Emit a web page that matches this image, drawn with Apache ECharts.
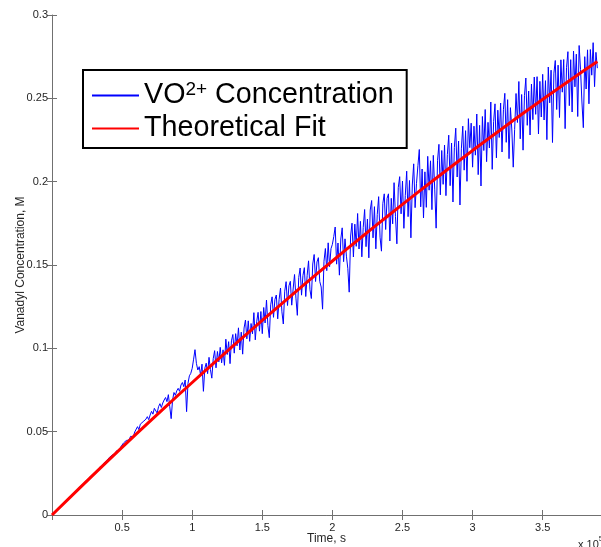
<!DOCTYPE html>
<html>
<head>
<meta charset="utf-8">
<script src="https://cdn.jsdelivr.net/npm/echarts@6/dist/echarts.min.js"></script>
<style>
html,body{margin:0;padding:0;background:#fff;}
#chart{width:601px;height:547px;}
</style>
</head>
<body>
<div id="chart"></div>
<script>
// ---- data ----
const sampleStep = 1000; // seconds between measured samples (t = i * sampleStep)
const vo2Values = [
0.0000,0.0012,0.0014,0.0030,0.0031,0.0046,0.0048,0.0061,0.0065,0.0078,
0.0080,0.0095,0.0098,0.0110,0.0121,0.0119,0.0135,0.0146,0.0148,0.0161,
0.0160,0.0178,0.0186,0.0185,0.0204,0.0210,0.0212,0.0229,0.0236,0.0240,
0.0252,0.0258,0.0270,0.0268,0.0287,0.0296,0.0293,0.0312,0.0318,0.0325,
0.0330,0.0346,0.0342,0.0360,0.0371,0.0366,0.0385,0.0392,0.0389,0.0408,
0.0420,0.0432,0.0425,0.0447,0.0455,0.0450,0.0472,0.0480,0.0470,0.0498,
0.0505,0.0530,0.0512,0.0545,0.0538,0.0560,0.0548,0.0575,0.0590,0.0572,
0.0600,0.0622,0.0605,0.0640,0.0628,0.0612,0.0650,0.0668,0.0645,0.0672,
0.0690,0.0705,0.0680,0.0722,0.0650,0.0578,0.0690,0.0735,0.0718,0.0745,
0.0760,0.0742,0.0780,0.0795,0.0770,0.0810,0.0620,0.0790,0.0835,0.0850,
0.0880,0.0935,0.0992,0.0910,0.0870,0.0890,0.0840,0.0905,0.0742,0.0880,
0.0911,0.0848,0.0946,0.0873,0.0821,0.0938,0.0986,0.0883,0.0981,0.0919,
0.1006,0.0913,0.0991,0.0898,0.1055,0.0963,0.1040,0.0908,0.1045,0.1083,
0.0971,0.1088,0.1015,0.1123,0.0990,0.1097,0.0965,0.1122,0.1170,0.1057,
0.1165,0.1042,0.1149,0.1087,0.1214,0.1051,0.1159,0.1216,0.1103,0.1221,
0.1088,0.1245,0.1152,0.1290,0.1137,0.1064,0.1261,0.1309,0.1186,0.1293,
0.1320,0.1177,0.1294,0.1362,0.1219,0.1146,0.1343,0.1400,0.1257,0.1375,
0.1402,0.1259,0.1356,0.1443,0.1301,0.1198,0.1425,0.1482,0.1319,0.1437,
0.1484,0.1311,0.1438,0.1525,0.1352,0.1299,0.1506,0.1563,0.1401,0.1518,
0.1544,0.1401,0.1368,0.1235,0.1522,0.1599,0.1466,0.1633,0.1490,0.1598,
0.1624,0.1671,0.1728,0.1505,0.1632,0.1439,0.1656,0.1723,0.1520,0.1657,
0.1553,0.1480,0.1337,0.1674,0.1751,0.1548,0.1745,0.1612,0.1809,0.1596,
0.1762,0.1549,0.1726,0.1833,0.1610,0.1776,0.1543,0.1830,0.1887,0.1663,
0.1850,0.1597,0.1803,0.1910,0.1667,0.1583,0.1870,0.1927,0.1713,0.1900,
0.1927,0.1644,0.1900,0.1747,0.1994,0.1790,0.1627,0.1964,0.2030,0.1807,
0.2004,0.1720,0.1917,0.2063,0.1790,0.2007,0.1663,0.1980,0.2107,0.1844,
0.1990,0.2096,0.2193,0.1849,0.2076,0.1782,0.2059,0.1846,0.2152,0.1949,
0.2125,0.1832,0.2158,0.1955,0.1721,0.2128,0.2224,0.1921,0.2187,0.1984,
0.2220,0.1916,0.2163,0.2279,0.1976,0.2232,0.1878,0.2205,0.2321,0.2028,
0.2244,0.1860,0.2197,0.2333,0.2069,0.2306,0.2002,0.2378,0.2204,0.2351,
0.2087,0.2333,0.2159,0.2406,0.2042,0.2338,0.1974,0.2391,0.2187,0.2433,
0.2120,0.2356,0.2202,0.2478,0.2074,0.2361,0.2467,0.2143,0.2429,0.2265,
0.2472,0.2178,0.2434,0.2530,0.2236,0.2492,0.2138,0.2444,0.2310,0.2087,
0.2313,0.2529,0.2355,0.2601,0.2257,0.2523,0.2189,0.2516,0.2622,0.2338,
0.2544,0.2280,0.2586,0.2372,0.2628,0.2404,0.2630,0.2286,0.2602,0.2388,
0.2644,0.2370,0.2606,0.2252,0.2688,0.2473,0.2669,0.2235,0.2651,0.2727,
0.2433,0.2699,0.2385,0.2731,0.2537,0.2733,0.2318,0.2684,0.2780,0.2456,
0.2732,0.2418,0.2784,0.2569,0.2765,0.2391,0.2817,0.2673,0.2478,0.2324,
0.2750,0.2556,0.2791,0.2467,0.2793,0.2639,0.2834,0.2570,0.2776,0.2681
];
const fitTimes = [0,20000,40000,60000,80000,100000,120000,140000,160000,180000,200000,
  220000,240000,260000,280000,300000,320000,340000,360000,380000,389000];
const fitValues = [0,0.01643,0.03259,0.04849,0.06413,0.0795,0.09461,0.10945,0.12403,0.13835,0.1524,
  0.16619,0.17971,0.19297,0.20597,0.2187,0.23117,0.24337,0.25531,0.26699,0.27216];
const seriesNames = ['VO2+ Concentration','Theoretical Fit'];
const xAxisTitle = 'Time, s';
const yAxisTitle = 'Vanadyl Concentration, M';
const xExponent = 5;

// ---- build ----
const vo2Data = vo2Values.map((v, i) => [i * sampleStep, v]);
const fitData = fitTimes.map((t, i) => [t, fitValues[i]]);
const scale = Math.pow(10, xExponent);

const FONT = 'Liberation Sans, Arial, Helvetica, sans-serif';
const AXIS_COLOR = '#707070';
const TEXT_COLOR = '#262626';
const X_MAX = 391600;

const chart = echarts.init(document.getElementById('chart'), null, {renderer: 'canvas'});
const xCommon = {
  type: 'value', min: 0, max: X_MAX, interval: 50000,
  splitLine: {show: false},
  axisLine: {lineStyle: {color: AXIS_COLOR, width: 1}},
  axisTick: {inside: true, length: 5, lineStyle: {color: AXIS_COLOR}}
};
const yCommon = {
  type: 'value', min: 0, max: 0.3, interval: 0.05,
  splitLine: {show: false},
  axisLine: {show: true, lineStyle: {color: AXIS_COLOR, width: 1}},
  axisTick: {show: true, inside: true, length: 5, lineStyle: {color: AXIS_COLOR}}
};
const option = {
  animation: false,
  backgroundColor: '#fff',
  textStyle: {fontFamily: FONT},
  grid: {left: 52, right: 0, top: 15, bottom: 32, containLabel: false, outerBoundsMode: 'none'},
  xAxis: [
    Object.assign({}, xCommon, {
      position: 'bottom',
      name: xAxisTitle, nameLocation: 'middle', nameGap: 18, nameMoveOverlap: false,
      nameTextStyle: {fontFamily: FONT, fontSize: 12, color: TEXT_COLOR},
      axisLabel: {
        fontFamily: FONT, fontSize: 11, color: TEXT_COLOR, margin: 7,
        showMaxLabel: false,
        formatter: v => (v === 0 || v % 50000 !== 0) ? '' : String(v / scale)
      }
    }),
    Object.assign({}, xCommon, {
      position: 'top', axisLabel: {show: false}
    })
  ],
  yAxis: [
    Object.assign({}, yCommon, {
      position: 'left',
      name: yAxisTitle, nameLocation: 'middle', nameGap: 25, nameMoveOverlap: false,
      nameTextStyle: {fontFamily: FONT, fontSize: 12, color: TEXT_COLOR},
      axisLabel: {fontFamily: FONT, fontSize: 11, color: TEXT_COLOR, margin: 4,
        formatter: v => String(+v.toFixed(2))}
    }),
    Object.assign({}, yCommon, {
      position: 'right', axisLabel: {show: false},
      axisLine: {show: false}
    })
  ],
  legend: {
    show: true,
    orient: 'vertical',
    left: 83, top: 70,
    padding: [10, 13, 4, 8],
    itemWidth: 47, itemHeight: 14, itemGap: 2,
    borderColor: '#000', borderWidth: 2,
    backgroundColor: '#fff',
    itemStyle: {opacity: 0},
    data: seriesNames,
    formatter: name => name === seriesNames[0]
      ? '{n|VO}{s|2+}{n| Concentration}'
      : '{n|' + name + '}',
    textStyle: {
      fontFamily: FONT, fontSize: 28.7, color: '#000', lineHeight: 31,
      rich: {
        n: {fontFamily: FONT, fontSize: 28.7, color: '#000', lineHeight: 31},
        s: {fontFamily: FONT, fontSize: 19, color: '#000', lineHeight: 19, verticalAlign: 'top'}
      }
    }
  },
  graphic: [{
    type: 'text', left: 578, top: 535,
    style: {
      text: '{a|x 10}{b|' + xExponent + '}',
      rich: {
        a: {fontFamily: FONT, fontSize: 11, fill: TEXT_COLOR, padding: [6, 0, 0, 0]},
        b: {fontFamily: FONT, fontSize: 8, fill: TEXT_COLOR, padding: [0, 0, 6, 0]}
      }
    }
  }],
  series: [
    {
      name: seriesNames[0], type: 'line', data: vo2Data,
      xAxisIndex: 0, yAxisIndex: 0,
      symbol: 'none', showSymbol: false, smooth: false,
      lineStyle: {color: '#0000ff', width: 1},
      itemStyle: {color: '#0000ff'},
      z: 2
    },
    {
      name: seriesNames[1], type: 'line', data: fitData,
      xAxisIndex: 0, yAxisIndex: 0,
      symbol: 'none', showSymbol: false, smooth: true,
      lineStyle: {color: '#ff0000', width: 3},
      itemStyle: {color: '#ff0000'},
      z: 3
    }
  ]
};
chart.setOption(option);
</script>
</body>
</html>
